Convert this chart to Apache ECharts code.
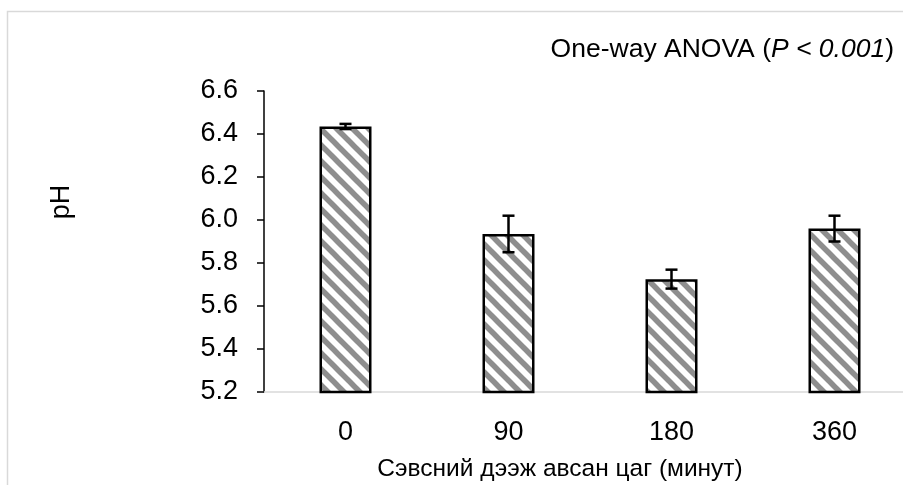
<!DOCTYPE html>
<html><head><meta charset="utf-8">
<script src="https://cdn.jsdelivr.net/npm/echarts@6/dist/echarts.min.js"></script>
<style>html,body{margin:0;padding:0;background:#fff}#c{width:903px;height:485px}</style>
</head><body><div id="c"></div>
<script>
const categories = ['0', '90', '180', '360'];
const phMeans = [6.435, 5.935, 5.725, 5.96];
const phErrors = [0.012, 0.085, 0.044, 0.06];
const yTicks = { min: 5.2, max: 6.6, interval: 0.2 };
const xTitle = 'Сэвсний дээж авсан цаг (минут)';
const yTitle = 'pH';

const FONT = '"Liberation Sans", Arial, sans-serif';

// hatch pattern
const pc = document.createElement('canvas');
pc.width = 16; pc.height = 16;
const g = pc.getContext('2d');
g.fillStyle = '#ffffff'; g.fillRect(0, 0, 16, 16);
g.strokeStyle = '#8e8e8e'; g.lineWidth = 5.5;
for (const o of [-16, 0, 16]) {
  g.beginPath(); g.moveTo(o - 6, -6); g.lineTo(o + 22, 22); g.stroke();
}

const chart = echarts.init(document.getElementById('c'), null, { renderer: 'canvas' });
chart.setOption({
  animation: false,
  backgroundColor: '#fff',
  grid: { left: 264, top: 91, height: 301, width: 652, containLabel: false, outerBoundsMode: 'none' },
  xAxis: {
    type: 'category', data: categories,
    axisLine: { lineStyle: { color: '#d9d9d9', width: 1.5 } },
    axisTick: { show: false },
    axisLabel: { color: '#000', fontSize: 27, fontFamily: FONT, margin: 27 }
  },
  yAxis: {
    type: 'value', min: yTicks.min, max: yTicks.max, interval: yTicks.interval,
    splitLine: { show: false },
    axisLine: { show: true, lineStyle: { color: '#000', width: 1.5 } },
    axisTick: { show: true, length: 7, lineStyle: { color: '#000', width: 1.5 } },
    axisLabel: { color: '#000', fontSize: 27, fontFamily: FONT, margin: 26,
      formatter: v => v.toFixed(1) }
  },
  series: [
    {
      type: 'bar', data: phMeans, barWidth: 52,
      itemStyle: { color: { image: pc, repeat: 'repeat' }, borderColor: '#000', borderWidth: 2.5 }
    },
    {
      type: 'custom', z: 10,
      data: phMeans.map((m, i) => [i, m - phErrors[i], m + phErrors[i]]),
      renderItem: function (params, api) {
        const lo = api.coord([api.value(0), api.value(1)]);
        const hi = api.coord([api.value(0), api.value(2)]);
        const w = 6;
        const st = { stroke: '#000', lineWidth: 2.5 };
        return { type: 'group', children: [
          { type: 'line', shape: { x1: lo[0], y1: lo[1], x2: hi[0], y2: hi[1] }, style: st },
          { type: 'line', shape: { x1: lo[0] - w, y1: lo[1], x2: lo[0] + w, y2: lo[1] }, style: st },
          { type: 'line', shape: { x1: hi[0] - w, y1: hi[1], x2: hi[0] + w, y2: hi[1] }, style: st }
        ]};
      }
    }
  ],
  graphic: [
    { type: 'rect', shape: { x: 7.5, y: 11.5, width: 1200, height: 1200 },
      style: { fill: 'none', stroke: '#d9d9d9', lineWidth: 1.5 }, silent: true, z: -1 },
    { type: 'text', x: 62, y: 202, rotation: Math.PI / 2,
      style: { text: yTitle, fontSize: 27, fontFamily: FONT, fill: '#000', align: 'center', verticalAlign: 'middle' } },
    { type: 'text', x: 560, y: 469,
      style: { text: xTitle, fontSize: 24.5, fontFamily: FONT, fill: '#000', align: 'center', verticalAlign: 'middle' } },
    { type: 'text', x: 894, y: 50,
      style: { text: '{n|One-way ANOVA (}{i|P < 0.001}{n|)}', align: 'right', verticalAlign: 'middle',
        rich: { n: { fontSize: 26.5, fontFamily: FONT, fill: '#000' }, i: { fontSize: 26.5, fontFamily: FONT, fontStyle: 'italic', fill: '#000' } } } }
  ]
});
</script></body></html>
